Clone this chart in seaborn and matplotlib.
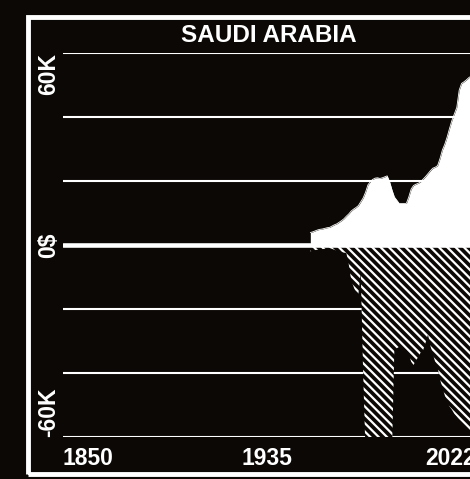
import numpy as np
import pandas as pd
import matplotlib
matplotlib.use("Agg")
import matplotlib.pyplot as plt
import seaborn as sns
from matplotlib.patches import Rectangle

# values (thousands of $)
years = list(range(1953, 2023))
positive = [3.9, 4.1, 4.4, 4.7, 4.9, 5.0, 5.2, 5.4, 5.5, 5.9,
            6.3, 6.6, 7.1, 7.6, 8.2, 9.0, 9.7, 10.6, 11.2, 11.7,
            12.3, 13.5, 14.7, 16.5, 18.8, 19.8, 20.5, 20.9, 21.0, 20.8,
            21.0, 21.3, 21.6, 19.8, 17.2, 15.0, 14.0, 13.0, 13.0, 13.0,
            13.0, 15.0, 17.5, 18.6, 19.0, 19.3, 19.8, 20.6, 21.4, 22.3,
            23.2, 24.0, 24.3, 24.8, 27.0, 29.7, 31.5, 33.8, 36.5, 39.0,
            41.0, 43.0, 48.4, 50.5, 51.0, 51.6, 52.3, 52.8, 53.2, 53.5]
negative = [-2.0, -1.8, -1.6, -1.5, -1.5, -1.3, -1.2, -1.0, -1.0, -1.2,
            -1.5, -1.8, -2.0, -2.2, -2.4, -2.5, -6.0, -11.0, -13.0, -15.0,
            -15.5, -8.4, -40.0, -65.0, -65.0, -65.0, -65.0, -65.0, -65.0, -65.0,
            -65.0, -65.0, -65.0, -65.0, -65.0, -32.5, -32.3, -31.8, -31.7, -32.2,
            -32.8, -34.0, -36.5, -37.5, -36.0, -35.0, -33.5, -32.8, -30.5, -28.0,
            -31.5, -34.0, -36.5, -38.2, -42.0, -44.5, -47.0, -49.0, -50.5, -51.5,
            -52.8, -53.7, -54.8, -55.8, -56.8, -57.6, -58.4, -59.3, -60.5, -62.0]
y_ticks = [-60000, -40000, -20000, 0, 20000, 40000, 60000]
y_labels = {60000: "60K", 0: "0$", -60000: "-60K"}
x_labels = [1850, 1935, 2022]
title = "SAUDI ARABIA"

df = pd.DataFrame({
    "year": years,
    "positive": np.array(positive) * 1000,
    "negative": np.array(negative) * 1000,
})

bg = "#0b0805"
sns.set_style("dark", {"axes.facecolor": bg, "figure.facecolor": bg})
plt.rcParams["font.family"] = ["Liberation Sans", "DejaVu Sans"]
plt.rcParams["hatch.color"] = "white"
plt.rcParams["hatch.linewidth"] = 1.6

fig = plt.figure(figsize=(4.7, 4.79), dpi=100)
W, H = 470, 479
ax = fig.add_axes([63 / W, 42 / H, 413 / W, 384 / H])
ax.set_facecolor(bg)

# grid lines
for t in y_ticks:
    if t == 0:
        continue
    ax.axhline(t, color="white", lw=1.5, zorder=1)

ax.fill_between(df["year"], 0, df["positive"], facecolor="white",
                edgecolor="white", linewidth=0, zorder=2)
ax.fill_between(df["year"], df["negative"], 0, facecolor=bg,
                edgecolor="white", hatch="\\\\\\\\", linewidth=0, zorder=2)
sns.lineplot(data=df, x="year", y="positive", color="white", lw=0.6,
             ax=ax, zorder=3)
ax.axhline(0, color="white", lw=3.3, zorder=5)

ax.set_xlim(1850, 2022)
ax.set_ylim(-60000, 60000)
ax.set_xticks([])
ax.set_yticks([])
ax.set_xlabel("")
ax.set_ylabel("")
for s in ax.spines.values():
    s.set_visible(False)

# y labels (rotated)
xt = (49 - 63) / 413
vas = {60000: "top", 0: "center", -60000: "bottom"}
for v, lab in y_labels.items():
    ax.text(xt, v, lab, transform=ax.get_yaxis_transform(), rotation=90,
            ha="center", va=vas[v], color="white", fontsize=16.5,
            fontweight="bold", clip_on=False)

# x labels
has = ["left", "center", "right"]
yb = -(465 - 437) / 384
for yr, ha in zip(x_labels, has):
    ax.text(yr, yb, str(yr), transform=ax.get_xaxis_transform(),
            ha=ha, va="baseline", color="white", fontsize=16.5,
            fontweight="bold", clip_on=False)

fig.text(268.5 / W, 1 - 35.8 / H, title, ha="center", va="center",
         color="white", fontsize=17.5, fontweight="bold")

# white frame
frame = Rectangle((28.3 / W, 4.7 / H), (500 - 28.3) / W, (474.3 - 16.7) / H,
                  transform=fig.transFigure, fill=False, edgecolor="white",
                  lw=3.5, clip_on=False)
fig.patches.append(frame)

fig.savefig("out.png", dpi=100, facecolor=bg)
